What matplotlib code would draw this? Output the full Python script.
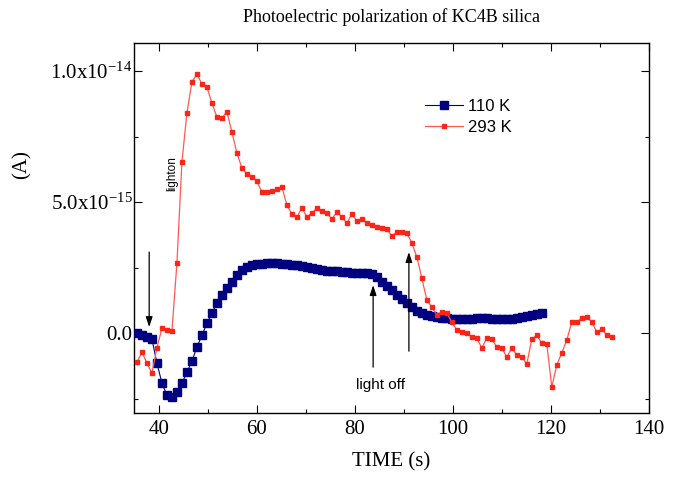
import numpy as np
import matplotlib
matplotlib.use("Agg")
import matplotlib.pyplot as plt
from matplotlib.ticker import MultipleLocator, FixedLocator, FixedFormatter

plt.rcParams['font.family'] = ['Liberation Serif', 'DejaVu Serif']
plt.rcParams['mathtext.fontset'] = 'custom'
plt.rcParams['mathtext.rm'] = 'Liberation Serif'
plt.rcParams['mathtext.it'] = 'Liberation Serif:italic'

title = "Photoelectric polarization of KC4B silica"
xlabel = "TIME (s)"
ylabel = "(A)"
series_labels = ["110 K", "293 K"]

# sampling times (s)
time_110K = np.linspace(35.5, 118.2, 82)
time_293K = np.linspace(35.5, 132.4, 96)

# currents in units of 1e-15 A
current_110K = [
    0.00, -0.08, -0.15, -0.23, -1.15, -1.91, -2.37, -2.44, -2.25, -1.91,
    -1.49, -1.07, -0.53, -0.08, 0.38, 0.76, 1.15, 1.45, 1.72, 1.95,
    2.21, 2.40, 2.52, 2.60, 2.63, 2.63, 2.67, 2.67, 2.67, 2.63,
    2.63, 2.60, 2.60, 2.56, 2.52, 2.48, 2.44, 2.40, 2.37, 2.37,
    2.37, 2.33, 2.33, 2.29, 2.29, 2.29, 2.29, 2.25, 2.14, 1.95,
    1.79, 1.64, 1.45, 1.30, 1.15, 0.99, 0.84, 0.76, 0.69, 0.65,
    0.61, 0.57, 0.57, 0.53, 0.53, 0.53, 0.53, 0.53, 0.57, 0.57,
    0.57, 0.53, 0.53, 0.53, 0.53, 0.53, 0.57, 0.61, 0.65, 0.69,
    0.73, 0.76,
]
current_293K = [
    -1.11, -0.73, -1.15, -1.53, -0.57, 0.19, 0.11, 0.08, 2.67, 6.53,
    8.40, 9.58, 9.89, 9.50, 9.39, 8.78, 8.24, 8.21, 8.44, 7.67,
    6.87, 6.30, 6.07, 5.95, 5.80, 5.38, 5.38, 5.42, 5.50, 5.57,
    4.89, 4.54, 4.43, 4.77, 4.43, 4.58, 4.77, 4.66, 4.58, 4.35,
    4.62, 4.43, 4.20, 4.54, 4.27, 4.35, 4.20, 4.12, 4.05, 4.01,
    3.97, 3.70, 3.85, 3.85, 3.82, 3.44, 2.90, 2.10, 1.26, 0.99,
    0.69, 0.80, 0.76, 0.42, 0.11, 0.04, 0.00, -0.15, -0.19, -0.57,
    -0.19, -0.23, -0.53, -0.57, -0.92, -0.57, -0.84, -0.92, -1.18, -0.23,
    -0.08, -0.38, -0.42, -2.06, -1.22, -0.76, -0.27, 0.42, 0.42, 0.57,
    0.61, 0.42, 0.04, 0.15, -0.08, -0.15,
]

yticks = [0.0, 5e-15, 1e-14]
ytick_labels = ["0.0", "5.0x10$^{-15}$", "1.0x10$^{-14}$"]
xticks = [40, 60, 80, 100, 120, 140]

# annotations: (x, y_start, y_end) in data units (y in 1e-15 A)
arrows = [(38.0, 3.09, 0.23), (83.7, -1.3, 1.83), (91.0, -0.69, 3.09)]
light_off_text = ("light off", 85.3, -1.98)
light_on_text = ("lighton", 42.7, 6.07)

W, H = 683, 478
fig = plt.figure(figsize=(W / 100, H / 100), dpi=100)
ax = fig.add_axes([134 / W, 1 - 413 / H, (649 - 134) / W, (413 - 43) / H])

scale = 1e-15
navy = "#000080"
red = "#ff2418"
ax.plot(time_110K, np.array(current_110K) * scale, color=navy, lw=0.8,
        marker="s", ms=6.2, mec=navy, mfc=navy, label=series_labels[0], zorder=3)
ax.plot(time_293K, np.array(current_293K) * scale, color="#ff5a50", lw=0.9,
        marker="s", ms=3.4, mec=red, mfc=red, label=series_labels[1], zorder=4)

for x, y0, y1 in arrows:
    ax.annotate("", xy=(x, y1 * scale), xytext=(x, y0 * scale),
                arrowprops=dict(arrowstyle="-|>,head_length=0.6,head_width=0.2",
                                color="black", lw=0.9, shrinkA=0, shrinkB=0),
                zorder=5)

ax.text(light_off_text[1], light_off_text[2] * scale, light_off_text[0],
        family=["Liberation Sans"], fontsize=11, ha="center", va="center")
ax.text(light_on_text[1], light_on_text[2] * scale, light_on_text[0],
        family=["Liberation Sans Narrow", "Liberation Sans"], fontsize=8.5,
        rotation=90, ha="center", va="center")

ax.set_xlim(34.9, 140)
ax.set_ylim(-3.05e-15, 1.107e-14)
ax.set_xticks(xticks)
ax.xaxis.set_minor_locator(MultipleLocator(10))
ax.yaxis.set_major_locator(FixedLocator(yticks))
ax.yaxis.set_major_formatter(FixedFormatter(ytick_labels))
ax.yaxis.set_minor_locator(MultipleLocator(2.5e-15))
ax.tick_params(which="both", direction="in", top=True, right=True,
               labelsize=15, width=0.8)
ax.tick_params(which="major", length=6)
ax.tick_params(which="minor", length=3)
ax.tick_params(axis="y", pad=1)
ax.tick_params(axis="x", pad=5)
for s in ax.spines.values():
    s.set_linewidth(1.0)

leg = ax.legend(loc="upper left", bbox_to_anchor=(425 / W, 1 - 99 / H),
                bbox_transform=fig.transFigure, frameon=False,
                prop={"family": "Liberation Sans", "size": 12},
                handlelength=2.3, handletextpad=0.3, labelspacing=0.35,
                borderpad=0, borderaxespad=0, numpoints=1)

fig.text(391.5 / W, 1 - 17 / H, title, fontsize=13, ha="center", va="center")
fig.text(391.5 / W, 1 - 462 / H, xlabel, fontsize=15, ha="center", va="center")
fig.text(22 / W, 1 - 165 / H, ylabel, fontsize=15, ha="center", va="center",
         rotation=90)

fig.savefig("out.png", dpi=100)
